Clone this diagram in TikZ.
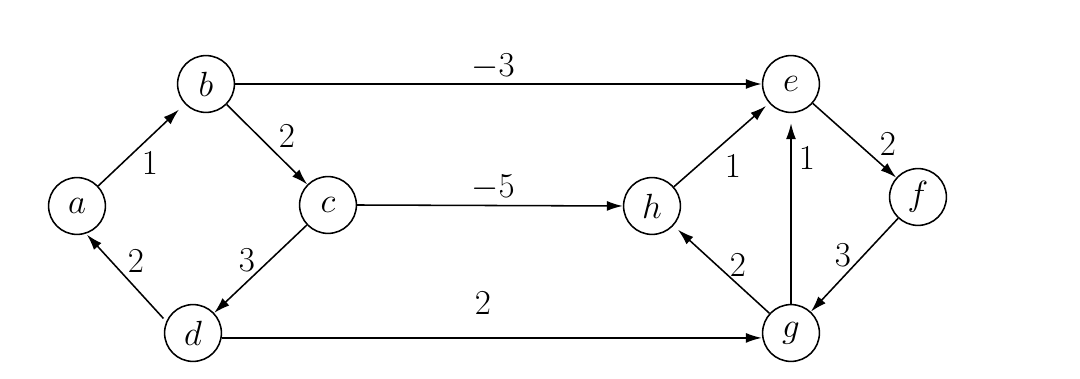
\documentclass[tikz,border=0pt]{standalone}
\usetikzlibrary{arrows.meta}
\begin{document}
\begin{tikzpicture}[x=0.025cm,y=-0.025cm,
  vtx/.style={draw,circle,line width=1.1pt,minimum size=1.42cm,inner sep=0pt,font=\fontsize{23}{28}\selectfont},
  lbl/.style={font=\fontsize{23}{28}\selectfont,inner sep=0pt},
  arr/.style={line width=1.1pt,-{Latex[length=0.4cm,width=0.25cm]}}]
\useasboundingbox[fill=white] (0,0) rectangle (1080,379);
\node[vtx] (a) at (77,206) {$a$};
\node[vtx] (b) at (206,84) {$b$};
\node[vtx] (c) at (328,205) {$c$};
\node[vtx] (d) at (193,333) {$d$};
\node[vtx] (e) at (791,84) {$e$};
\node[vtx] (f) at (918,197) {$f$};
\node[vtx] (g) at (791,333) {$g$};
\node[vtx] (h) at (652,206) {$h$};
\draw[arr,shorten >=0.2cm] (a) -- (b);
\draw[arr] (b) -- (c);
\draw[arr] (c) -- (d);
\draw[arr,transform canvas={shift={(-7pt,-5pt)}}] (d) -- (a);
\draw[arr] (b) -- (e);
\draw[arr] (c.east) -- (h.west);
\draw[arr,transform canvas={shift={(0pt,-3.5pt)}}] (d) -- (g);
\draw[arr,shorten >=0.1cm] (h) -- (e);
\draw[arr,shorten >=0.25cm] (g) -- (e);
\draw[arr] (e) -- (f);
\draw[arr] (f) -- (g);
\draw[arr,shorten >=0.15cm] (g) -- (h);
\node[lbl] (l1) at (493,67) {$-3$};
\node[lbl] (l2) at (493,188) {$-5$};
\node[lbl] (l3) at (483,303) {$2$};
\node[lbl] (l4) at (150,163) {$1$};
\node[lbl] (l5) at (287,136) {$2$};
\node[lbl] (l6) at (136,261) {$2$};
\node[lbl] (l7) at (247,260) {$3$};
\node[lbl] (l8) at (733,166) {$1$};
\node[lbl] (l9) at (807,158) {$1$};
\node[lbl] (l10) at (888,144) {$2$};
\node[lbl] (l11) at (843,255) {$3$};
\node[lbl] (l12) at (738,265) {$2$};
\end{tikzpicture}
\end{document}
